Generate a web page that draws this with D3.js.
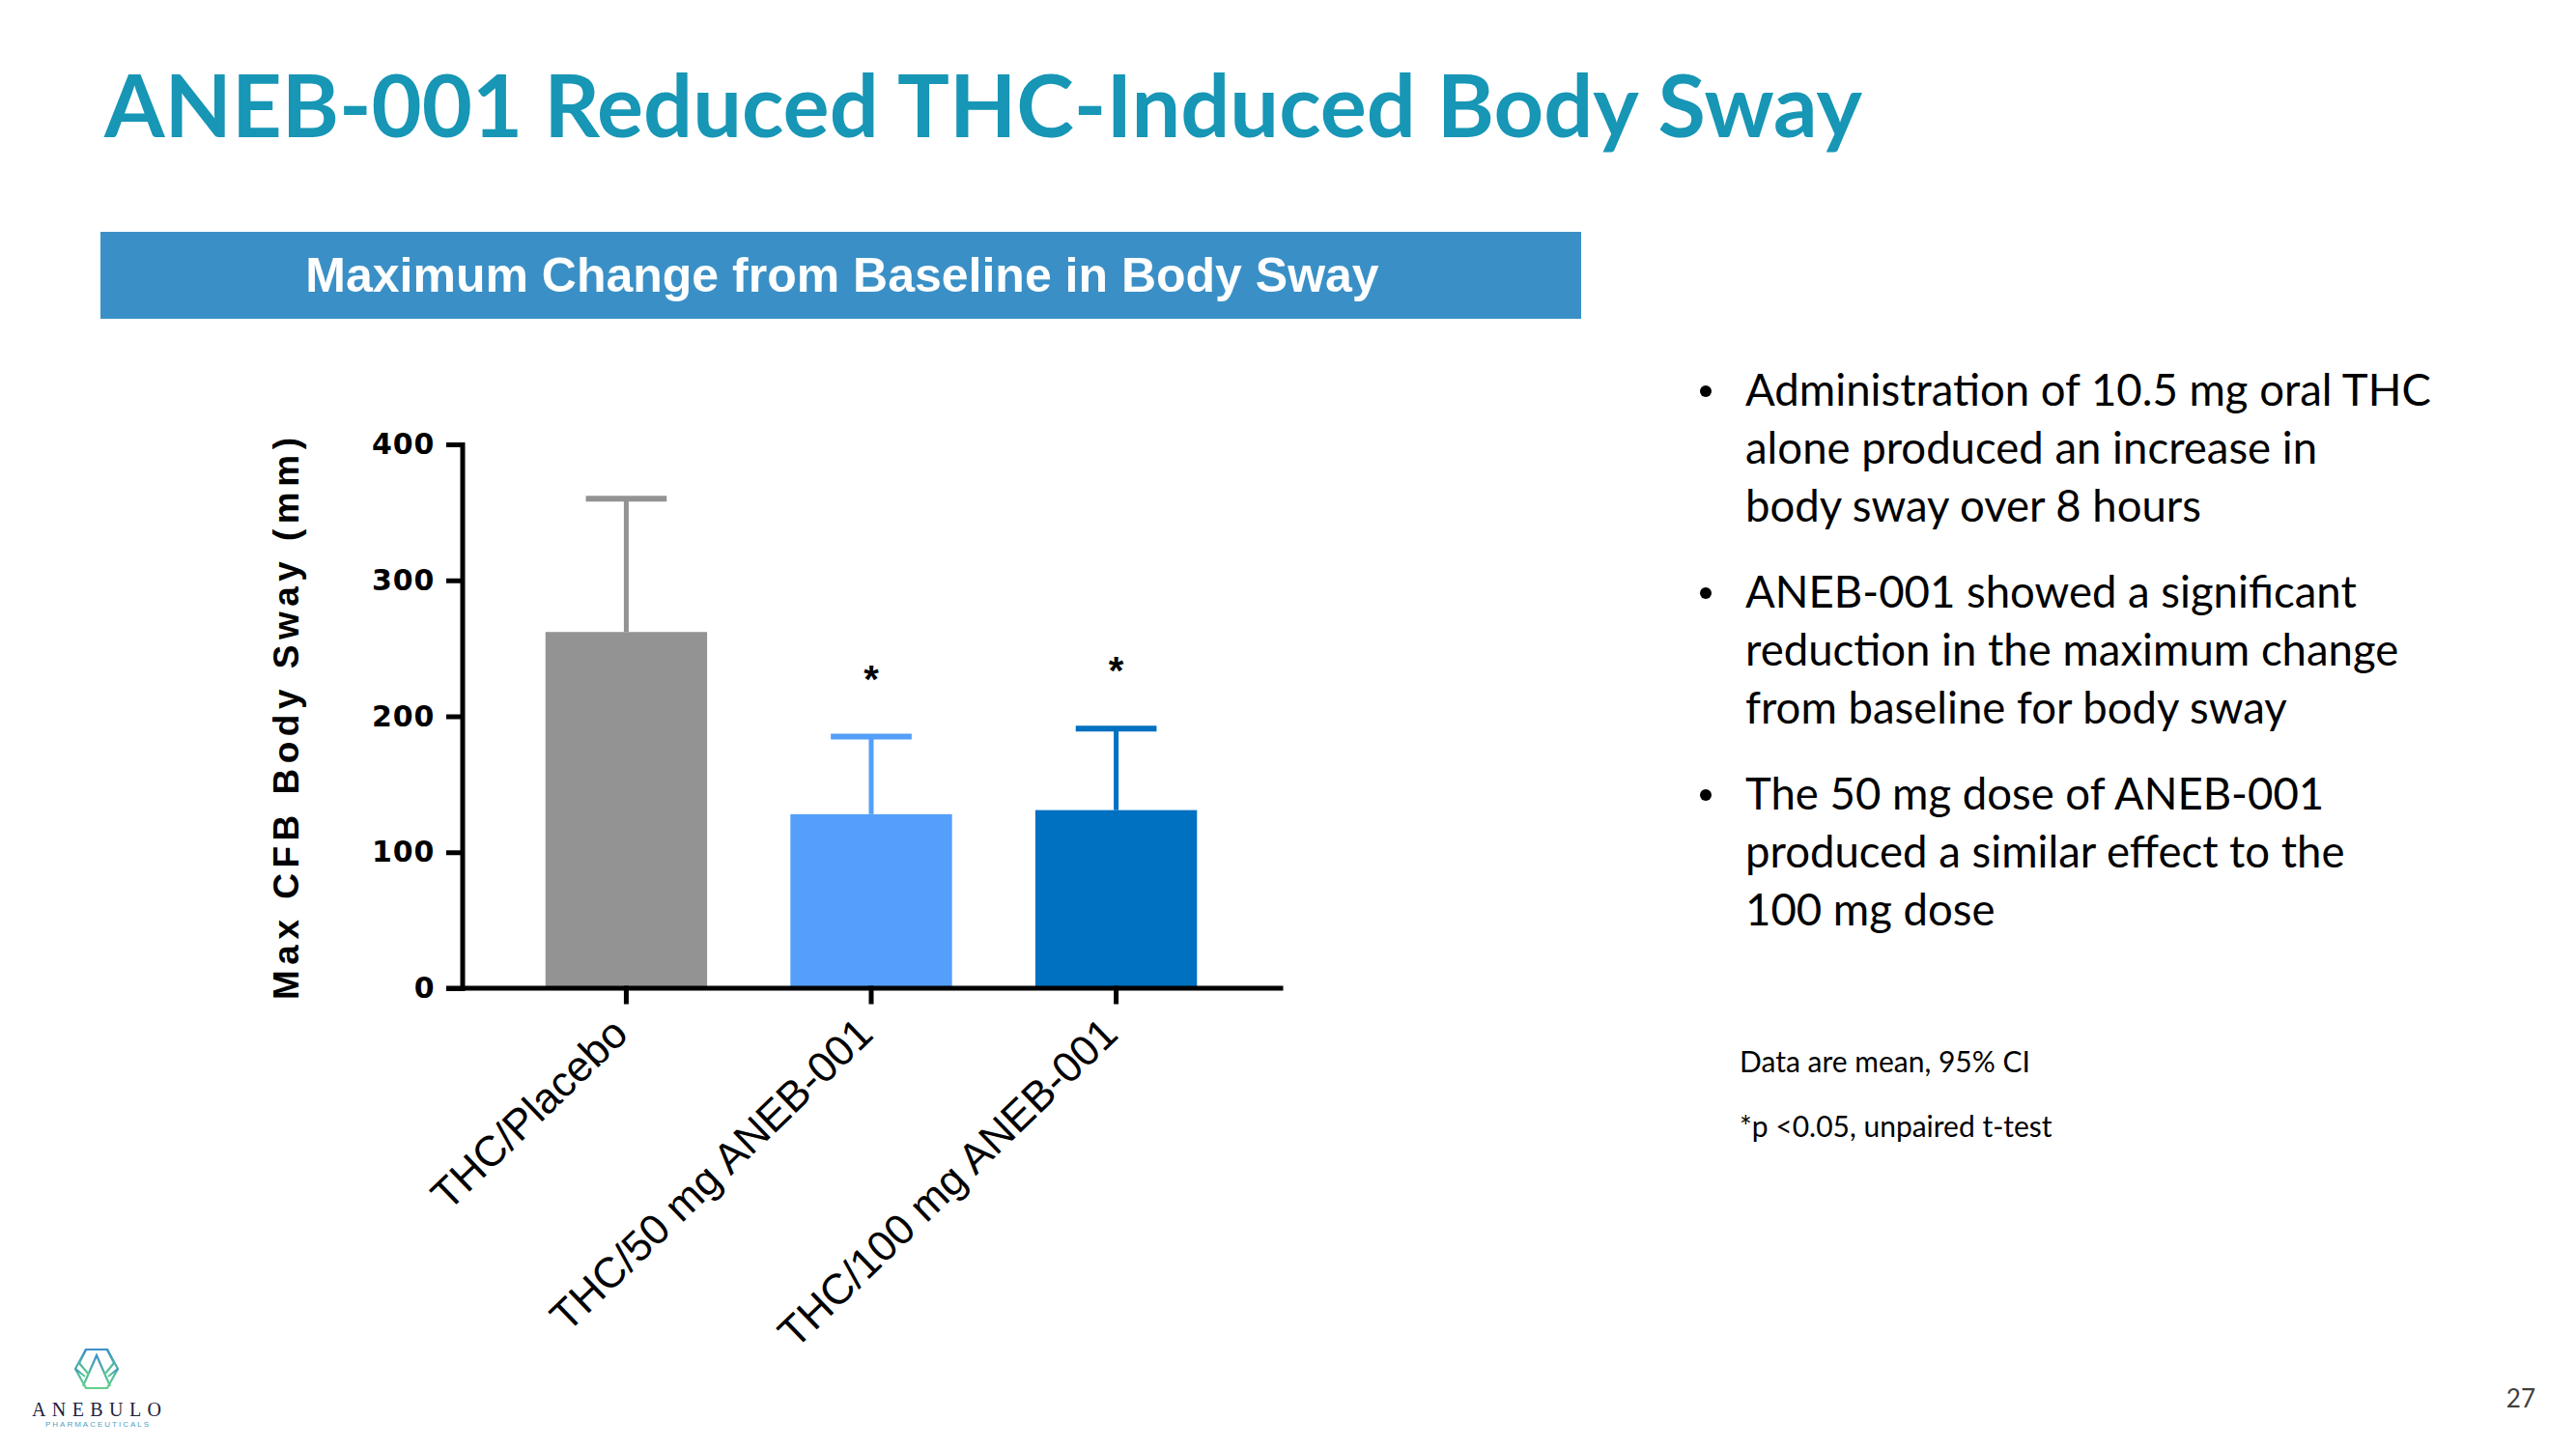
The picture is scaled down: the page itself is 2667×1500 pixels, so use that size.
<!DOCTYPE html>
<html>
<head>
<meta charset="utf-8">
<script src="https://cdn.jsdelivr.net/npm/d3@7"></script>
<style>
  body { margin: 0; background: #fff; }
  svg { display: block; }
</style>
</head>
<body>
<div class="slide"></div>
<script>
// values
const groups = ["THC/Placebo", "THC/50 mg ANEB-001", "THC/100 mg ANEB-001"];
const means = [262, 128, 131];
const upperCI = [360, 185, 191];
const marks = ["", "*", "*"];
const yTicks = [0, 100, 200, 300, 400];

const bullets = [
    ["Administration of 10.5 mg oral THC", "alone produced an increase in", "body sway over 8 hours"],
    ["ANEB-001 showed a significant", "reduction in the maximum change", "from baseline for body sway"],
    ["The 50 mg dose of ANEB-001", "produced a similar effect to the", "100 mg dose"]
];
const notes = ["Data are mean, 95% CI", "*p <0.05, unpaired t-test"];

const barColors = ["#939393", "#559ffa", "#0070c0"];

let width = 2667, height = 1500;

let svg = d3.select(".slide").append("svg")
    .attr("width", width)
    .attr("height", height);

// title
svg.append("text")
    .text("ANEB-001 Reduced THC-Induced Body Sway")
    .attr("x", 108)
    .attr("y", 142)
    .attr("textLength", 1820)
    .attr("lengthAdjust", "spacingAndGlyphs")
    .style("font-family", "Lato, 'Open Sans', sans-serif")
    .style("font-weight", 700)
    .style("font-size", "89px")
    .style("fill", "#1796b5");

// banner
svg.append("rect")
    .attr("x", 104).attr("y", 240)
    .attr("width", 1533).attr("height", 90)
    .style("fill", "#3a90c6");

svg.append("text")
    .text("Maximum Change from Baseline in Body Sway")
    .attr("x", 872)
    .attr("y", 302)
    .style("text-anchor", "middle")
    .style("font-family", "'Liberation Sans', Arial, sans-serif")
    .style("font-weight", 700)
    .style("font-size", "50px")
    .style("fill", "#fff");

// chart
let yAxisX = 478.5;
let y = d3.scaleLinear().domain([0, 400]).range([1023, 460]);
let x = d3.scaleBand().domain(groups).range([yAxisX, 1325.5]).padding(0.34);

let chart = svg.append("g");

chart.selectAll("rect.bar")
    .data(groups)
    .enter().append("rect")
    .attr("class", "bar")
    .attr("x", function(d){ return x(d); })
    .attr("width", x.bandwidth())
    .attr("y", function(d, i){ return y(means[i]); })
    .attr("height", function(d, i){ return y(0) - y(means[i]); })
    .style("fill", function(d, i){ return barColors[i]; });

// error bars (upper half only)
chart.selectAll("line.err")
    .data(groups)
    .enter().append("line")
    .attr("class", "err")
    .attr("x1", function(d){ return x(d) + x.bandwidth()/2; })
    .attr("x2", function(d){ return x(d) + x.bandwidth()/2; })
    .attr("y1", function(d, i){ return y(means[i]); })
    .attr("y2", function(d, i){ return y(upperCI[i]); })
    .style("stroke", function(d, i){ return barColors[i]; })
    .style("stroke-width", 5);

chart.selectAll("line.cap")
    .data(groups)
    .enter().append("line")
    .attr("class", "cap")
    .attr("x1", function(d){ return x(d) + x.bandwidth()/4; })
    .attr("x2", function(d){ return x(d) + x.bandwidth()*3/4; })
    .attr("y1", function(d, i){ return y(upperCI[i]); })
    .attr("y2", function(d, i){ return y(upperCI[i]); })
    .style("stroke", function(d, i){ return barColors[i]; })
    .style("stroke-width", 6);

chart.selectAll("text.star")
    .data(groups)
    .enter().append("text")
    .attr("class", "star")
    .text(function(d, i){ return marks[i]; })
    .attr("x", function(d){ return x(d) + x.bandwidth()/2; })
    .attr("y", function(d, i){ return y(upperCI[i]) - 46; })
    .style("text-anchor", "middle")
    .style("font-family", "'Liberation Sans', Arial, sans-serif")
    .style("font-weight", 700)
    .style("font-size", "40px");

// y axis
let yAxis = chart.append("g")
    .attr("transform", "translate(" + yAxisX + ",0)")
    .call(d3.axisLeft(y).tickValues(yTicks).tickSize(14).tickSizeOuter(0).tickPadding(14));

// x axis
let xAxis = chart.append("g")
    .attr("transform", "translate(0," + y(0) + ")")
    .call(d3.axisBottom(x).tickSize(14).tickSizeOuter(0).tickFormat(""));

xAxis.select(".domain").attr("d", "M" + (yAxisX - 14) + ",0H1326");

chart.selectAll(".domain, .tick line")
    .style("stroke", "#000")
    .style("stroke-width", 5)
    .style("stroke-linecap", "square");

yAxis.selectAll(".tick text")
    .style("font-family", "'DejaVu Sans', sans-serif")
    .style("font-weight", 700)
    .style("font-size", "30px")
    .style("letter-spacing", "1px")
    .style("fill", "#000");

// rotated category labels
chart.selectAll("text.cat")
    .data(groups)
    .enter().append("text")
    .attr("class", "cat")
    .text(function(d){ return d; })
    .attr("transform", function(d){
        return "translate(" + (x(d) + x.bandwidth()/2 + 4) + "," + (y(0) + 50) + ") rotate(-44)";
    })
    .style("text-anchor", "end")
    .style("font-family", "'Liberation Sans', Arial, sans-serif")
    .style("font-size", "44px")
    .style("fill", "#000");

// y axis title
svg.append("text")
    .text("Max CFB Body Sway (mm)")
    .attr("transform", "translate(309,744) rotate(-90)")
    .attr("textLength", 582)
    .style("text-anchor", "middle")
    .style("font-family", "'Liberation Sans', Arial, sans-serif")
    .style("font-weight", 700)
    .style("font-size", "37px")
    .style("fill", "#000");

// bullet list
let list = svg.append("g");
bullets.forEach(function(lines, b){
    let top = 420 + b*209;
    list.append("circle")
        .attr("cx", 1766)
        .attr("cy", top - 15)
        .attr("r", 6)
        .style("fill", "#000");
    lines.forEach(function(line, k){
        list.append("text")
            .text(line)
            .attr("x", 1807)
            .attr("y", top + k*60)
            .style("font-family", "Lato, sans-serif")
            .style("font-size", "45.5px")
            .style("fill", "#000");
    });
});

svg.selectAll("text.note")
    .data(notes)
    .enter().append("text")
    .attr("class", "note")
    .text(function(d){ return d; })
    .attr("x", 1801)
    .attr("y", function(d, i){ return 1110 + i*67; })
    .style("font-family", "Lato, sans-serif")
    .style("font-size", "30px")
    .style("fill", "#000");

// page number
svg.append("text")
    .text("27")
    .attr("x", 2625)
    .attr("y", 1457)
    .style("text-anchor", "end")
    .style("font-family", "Lato, sans-serif")
    .style("font-size", "26px")
    .style("fill", "#404040");

// logo
let defs = svg.append("defs");
let grad = defs.append("linearGradient")
    .attr("id", "logoGrad")
    .attr("x1", "0").attr("y1", "0").attr("x2", "0").attr("y2", "1");
grad.append("stop").attr("offset", "0").attr("stop-color", "#3b8fc8");
grad.append("stop").attr("offset", "1").attr("stop-color", "#5fd08a");

let logo = svg.append("g")
    .attr("transform", "translate(100,1417)")
    .style("fill", "none")
    .style("stroke", "url(#logoGrad)")
    .style("stroke-width", 2.2);
logo.append("path").attr("d", "M-22,0L-11,-20H11L22,0L11,20H-11Z");
logo.append("path").attr("d", "M-14,18L0,-14L14,18");
logo.append("path").attr("d", "M-7,2H7");
logo.append("path").attr("d", "M-11,-20L-18,-6L-8,6");
logo.append("path").attr("d", "M11,-20L18,-6L8,6");
logo.append("path").attr("d", "M-22,0L-12,8M22,0L12,8");

svg.append("text")
    .text("ANEBULO")
    .attr("x", 33)
    .attr("y", 1466)
    .attr("textLength", 134)
    .style("font-family", "'Liberation Serif', serif")
    .style("font-size", "20px")
    .style("fill", "#1d2340");

svg.append("text")
    .text("PHARMACEUTICALS")
    .attr("x", 47)
    .attr("y", 1477)
    .attr("textLength", 107)
    .style("font-family", "'Liberation Sans', sans-serif")
    .style("font-size", "8px")
    .style("fill", "#4a9fc4");
</script>
</body>
</html>
